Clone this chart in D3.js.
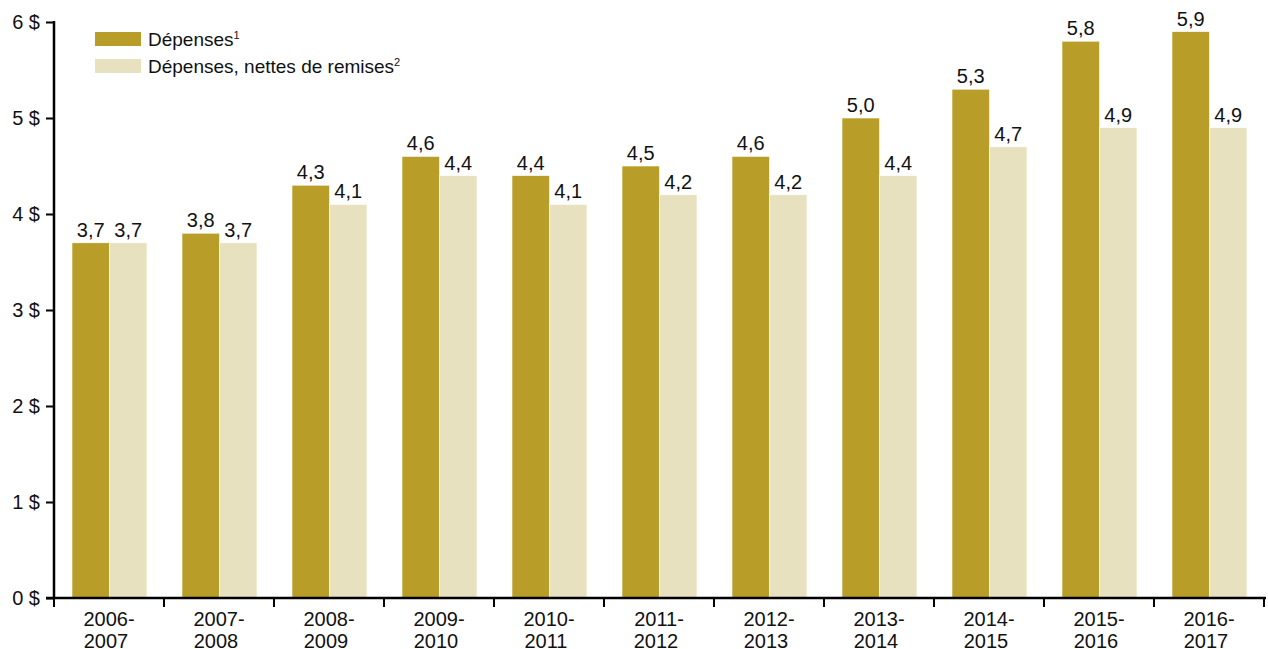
<!DOCTYPE html>
<html>
<head>
<meta charset="utf-8">
<script src="https://d3js.org/d3.v7.min.js"></script>
<style>
  body { margin: 0; background: #fff; }
  svg text { font-family: "Liberation Sans", Arial, sans-serif; fill: #111; }
</style>
</head>
<body>
<svg width="1268" height="649"></svg>
<script>
var years = ["2006-2007", "2007-2008", "2008-2009", "2009-2010", "2010-2011", "2011-2012",
             "2012-2013", "2013-2014", "2014-2015", "2015-2016", "2016-2017"];
var depenses = [3.7, 3.8, 4.3, 4.6, 4.4, 4.5, 4.6, 5.0, 5.3, 5.8, 5.9];
var nettes = [3.7, 3.7, 4.1, 4.4, 4.1, 4.2, 4.2, 4.4, 4.7, 4.9, 4.9];
var yTicks = [0, 1, 2, 3, 4, 5, 6];
var seriesNames = ["Dépenses", "Dépenses, nettes de remises"];
var seriesSup = ["1", "2"];
var colors = ["#B89E29", "#E8E1BF"];

var svg = d3.select("svg");
var mLeft = 54, mRight = 1264, mTop = 22, mBottom = 598;

var x = d3.scaleBand().domain(years).range([mLeft, mRight]).paddingInner(0).paddingOuter(0);
var xs = d3.scaleBand().domain([0, 1]).range([18, 93]).padding(0);
var y = d3.scaleLinear().domain([0, 6]).range([mBottom, mTop]);

var fmt = function(v) { return d3.format(".1f")(v).replace(".", ","); };

var data = years.map(function(yr, i) { return { year: yr, vals: [depenses[i], nettes[i]] }; });

var groups = svg.selectAll(".grp").data(data).enter().append("g")
    .attr("class", "grp")
    .attr("transform", function(d) { return "translate(" + x(d.year) + ",0)"; });

groups.selectAll("rect").data(function(d) { return d.vals; }).enter().append("rect")
    .attr("x", function(d, j) { return xs(j); })
    .attr("width", xs.bandwidth())
    .attr("y", function(d) { return y(d); })
    .attr("height", function(d) { return mBottom - y(d); })
    .attr("fill", function(d, j) { return colors[j]; })
    .attr("stroke", "#fff").attr("stroke-width", 0.6);

groups.selectAll(".lbl").data(function(d) { return d.vals; }).enter().append("text")
    .attr("class", "lbl")
    .attr("x", function(d, j) { return xs(j) + xs.bandwidth() / 2; })
    .attr("y", function(d) { return y(d) - 6; })
    .attr("text-anchor", "middle")
    .style("font-size", "20px")
    .text(function(d) { return fmt(d); });

// y axis
var yAxis = svg.append("g").attr("transform", "translate(" + mLeft + ",0)")
    .call(d3.axisLeft(y).tickValues(yTicks).tickSize(8).tickPadding(6)
        .tickFormat(function(d) { return d + " $"; }));
yAxis.select(".domain").attr("stroke", "#000").attr("stroke-width", 2.5)
    .attr("d", "M0," + (mTop - 1) + "V" + mBottom);
yAxis.selectAll(".tick line").attr("stroke", "#000").attr("stroke-width", 2);
yAxis.selectAll(".tick text").style("font-size", "20px").attr("fill", "#111");

// x axis
var xAxis = svg.append("g").attr("transform", "translate(0," + mBottom + ")");
xAxis.append("line").attr("x1", mLeft - 8).attr("x2", mRight + 2)
    .attr("stroke", "#000").attr("stroke-width", 2.5);
var bounds = years.map(function(d) { return x(d); }).concat([mRight]);
xAxis.selectAll(".xt").data(bounds).enter().append("line")
    .attr("x1", function(d) { return d; }).attr("x2", function(d) { return d; })
    .attr("y1", 0).attr("y2", 9)
    .attr("stroke", "#000").attr("stroke-width", 2);
var xl = xAxis.selectAll(".xl").data(years).enter().append("text")
    .attr("text-anchor", "middle")
    .attr("x", function(d) { return x(d) + x.bandwidth() / 2; })
    .style("font-size", "20px");
xl.append("tspan").attr("x", function(d) { return x(d) + x.bandwidth() / 2; }).attr("y", 28)
    .text(function(d) { return d.split("-")[0] + "-"; });
xl.append("tspan").attr("x", function(d) { return x(d) + x.bandwidth() / 2 - 3; }).attr("y", 50)
    .text(function(d) { return d.split("-")[1]; });

// legend
var leg = svg.append("g").attr("transform", "translate(95,32)");
seriesNames.forEach(function(name, i) {
  var g = leg.append("g").attr("transform", "translate(0," + (i * 27) + ")");
  g.append("rect").attr("width", 46).attr("height", 14).attr("fill", colors[i]);
  var t = g.append("text").attr("x", 53).attr("y", 14).style("font-size", "19px").text(name);
  t.append("tspan").attr("dy", -7).style("font-size", "11px").text(seriesSup[i]);
});
</script>
</body>
</html>
